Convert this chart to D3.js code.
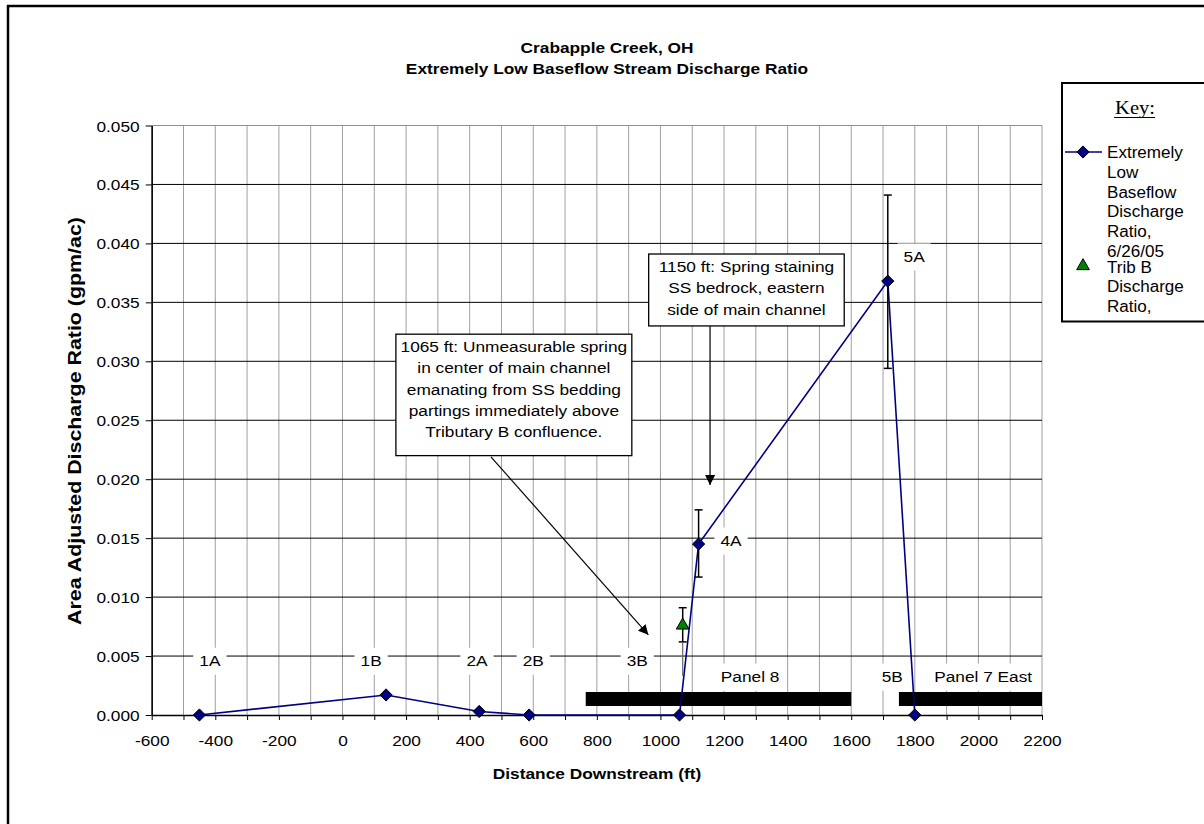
<!DOCTYPE html>
<html>
<head>
<meta charset="utf-8">
<script src="https://cdn.jsdelivr.net/npm/d3@7"></script>
<style>
  html, body { margin: 0; padding: 0; background: #fff; }
  svg { display: block; }
  text { font-family: "Liberation Sans", Arial, sans-serif; fill: #000; }
</style>
</head>
<body>
<svg id="chart" width="1204" height="824"></svg>
<script>
// ---- data -------------------------------------------------------------
const siteNames    = ["1A", "1B", "2A", "2B", "3B", "4A", "5A", "5B"];
const siteDistance = [-450, 137, 430, 587, 1060, 1120, 1715, 1800];
const siteRatio    = [0, 0.0017, 0.0003, 0, 0, 0.0145, 0.0368, 0];

// error bars on the main series
const errSite = ["4A", "5A"];
const errLow  = [0.0117, 0.0294];
const errHigh = [0.0174, 0.0441];

// Tributary B measurement
const tribDistance = [1070];
const tribRatio    = [0.0076];
const tribLow      = [0.0062];
const tribHigh     = [0.0091];
const tribStemLow  = [0.0033];

// survey panel extents along the stream
const panelNames = ["Panel 8", "Panel 7 East"];
const panelFrom  = [765, 1750];
const panelTo    = [1600, 2200];
const panelLevel = 0.00135;

// axis ticks
const xTicks = d3.range(-600, 2201, 200);
const xMinor = d3.range(-600, 2201, 100);
const yTicks = d3.range(0, 0.0501, 0.005);

// point labels (placed in data space)
const labelText = ["1A", "1B", "2A", "2B", "3B", "4A", "5A", "5B", "Panel 8", "Panel 7 East"];
const labelX    = [-417, 90, 423, 600, 927, 1222, 1798, 1729, 1282, 2015];
const labelY    = [0.0046, 0.0046, 0.0046, 0.0046, 0.0046, 0.0148, 0.0389, 0.00325, 0.00325, 0.00325];

// ---- setup ------------------------------------------------------------
const SX = 1.13;          // horizontal stretch of the lettering
const FS = 15.3;
const svg = d3.select("#chart");

const x = d3.scaleLinear().domain([-600, 2200]).range([151.7, 1042]);
const y = d3.scaleLinear().domain([0, 0.05]).range([715, 125.5]);

function txt(g, px, py, s, o = {}) {
  return g.append("text")
    .attr("transform", `translate(${px},${py}) scale(${o.sx || SX},1)`)
    .attr("text-anchor", o.anchor || "middle")
    .attr("font-size", o.size || FS)
    .attr("font-weight", o.weight || "normal")
    .style("font-family", o.family || null)
    .text(s);
}

// outer frame
svg.append("rect").attr("x", 8).attr("y", 6).attr("width", 1400).attr("height", 1000)
  .attr("fill", "none").attr("stroke", "#000").attr("stroke-width", 2.5);

// titles
txt(svg, 607, 53, "Crabapple Creek, OH", { weight: "bold" });
txt(svg, 607, 74, "Extremely Low Baseflow Stream Discharge Ratio", { weight: "bold" });

// ---- grid -------------------------------------------------------------
const plot = svg.append("g");
plot.append("g").selectAll("line").data(xMinor).join("line")
  .attr("x1", d => x(d)).attr("x2", d => x(d))
  .attr("y1", y(0)).attr("y2", y(0.05))
  .attr("stroke", "#a0a0a0").attr("stroke-width", 1);
plot.append("g").selectAll("line").data(yTicks.filter(d => d > 0 && d < 0.0499)).join("line")
  .attr("x1", x(-600)).attr("x2", x(2200))
  .attr("y1", d => y(d)).attr("y2", d => y(d))
  .attr("stroke", "#000").attr("stroke-width", 1);
plot.append("line").attr("x1", x(-600)).attr("x2", x(2200))
  .attr("y1", y(0.05)).attr("y2", y(0.05)).attr("stroke", "#909090");

// ---- axes -------------------------------------------------------------
const yAxis = svg.append("g").attr("transform", `translate(${x(-600)},0)`)
  .call(d3.axisLeft(y).tickValues(yTicks).tickFormat(d3.format(".3f")).tickSize(6).tickSizeOuter(0));
yAxis.select(".domain").attr("stroke", "#000").attr("stroke-width", 1.5);
yAxis.selectAll(".tick line").attr("stroke", "#000");
yAxis.selectAll(".tick text")
  .attr("x", null).attr("dy", null)
  .attr("transform", `translate(-12,5.5) scale(${SX},1)`)
  .attr("font-size", FS).attr("font-family", "Liberation Sans, Arial, sans-serif");

const xAxis = svg.append("g").attr("transform", `translate(0,${y(0)})`)
  .call(d3.axisBottom(x).tickValues(xMinor).tickFormat(d => xTicks.includes(d) ? d : "").tickSize(5).tickSizeOuter(0));
xAxis.select(".domain").attr("stroke", "#000").attr("stroke-width", 1.5);
xAxis.selectAll(".tick line").attr("stroke", "#000");
xAxis.selectAll(".tick text")
  .attr("y", null).attr("dy", null)
  .attr("transform", `translate(0,31) scale(${SX},1)`)
  .attr("font-size", FS).attr("font-family", "Liberation Sans, Arial, sans-serif");

txt(svg, 597, 779, "Distance Downstream (ft)", { weight: "bold" });
svg.append("text")
  .attr("transform", `translate(81,421) rotate(-90) scale(1,0.86)`)
  .attr("text-anchor", "middle").attr("font-size", 21.4).attr("font-weight", "bold")
  .text("Area Adjusted Discharge Ratio (gpm/ac)");

// ---- panel bars -------------------------------------------------------
svg.append("g").selectAll("line").data(panelNames).join("line")
  .attr("x1", (d, i) => x(panelFrom[i])).attr("x2", (d, i) => x(panelTo[i]))
  .attr("y1", y(panelLevel)).attr("y2", y(panelLevel))
  .attr("stroke", "#000").attr("stroke-width", 14);

// ---- main series ------------------------------------------------------
const pts = siteNames.map((n, i) => ({ n, d: siteDistance[i], r: siteRatio[i] }));
svg.append("path").datum(pts)
  .attr("fill", "none").attr("stroke", "#000080").attr("stroke-width", 1.6)
  .attr("d", d3.line().x(p => x(p.d)).y(p => y(p.r)));

function errBar(g, px, lo, hi, cap = true) {
  g.append("line").attr("x1", x(px)).attr("x2", x(px)).attr("y1", y(lo)).attr("y2", y(hi))
    .attr("stroke", "#000").attr("stroke-width", 1.5);
  if (cap) {
    [lo, hi].forEach(v => g.append("line")
      .attr("x1", x(px) - 4).attr("x2", x(px) + 4).attr("y1", y(v)).attr("y2", y(v))
      .attr("stroke", "#000").attr("stroke-width", 1.5));
  }
}
const eb = svg.append("g");
errSite.forEach((s, i) => errBar(eb, siteDistance[siteNames.indexOf(s)], errLow[i], errHigh[i]));
tribDistance.forEach((d, i) => {
  errBar(eb, d, tribLow[i], tribHigh[i]);
  eb.append("line").attr("x1", x(d)).attr("x2", x(d)).attr("y1", y(tribStemLow[i])).attr("y2", y(tribLow[i]))
    .attr("stroke", "#666").attr("stroke-width", 1.2);
});

const diamond = d3.symbol().type(d3.symbolDiamond2).size(95);
svg.append("g").selectAll("path").data(pts).join("path")
  .attr("transform", p => `translate(${x(p.d)},${y(p.r)})`)
  .attr("d", diamond).attr("fill", "#000080").attr("stroke", "#000").attr("stroke-width", 1);

const tri = d3.symbol().type(d3.symbolTriangle).size(70);
svg.append("g").selectAll("path").data(tribDistance).join("path")
  .attr("transform", (d, i) => `translate(${x(d)},${y(tribRatio[i])})`)
  .attr("d", tri).attr("fill", "#008000").attr("stroke", "#000").attr("stroke-width", 1);

// ---- point labels with white backing ---------------------------------
const lab = svg.append("g");
labelText.forEach((s, i) => {
  const cx = x(labelX[i]), cy = y(labelY[i]);
  const t = txt(lab, cx, cy + 5.5, s);
  const w = t.node().getBBox().width * SX + 12;
  lab.insert("rect", "text").attr("x", cx - w / 2).attr("y", cy - 13).attr("width", w).attr("height", 27)
    .attr("fill", "#fff");
});

// ---- callouts ---------------------------------------------------------
const defs = svg.append("defs");
defs.append("marker").attr("id", "ah").attr("viewBox", "0 0 10 10").attr("refX", 10).attr("refY", 5)
  .attr("markerWidth", 10).attr("markerHeight", 10).attr("markerUnits", "userSpaceOnUse")
  .attr("orient", "auto")
  .append("path").attr("d", "M0,0 L10,5 L0,10 Z").attr("fill", "#000");

const callouts = [
  { lines: ["1065 ft: Unmeasurable spring", "in center of main channel", "emanating from SS bedding",
            "partings immediately above", "Tributary B confluence."],
    x0: 168, x1: 910, yTop: 0.0323, yBot: 0.0220, from: [467, 0.0219], to: [962, 0.0068] },
  { lines: ["1150 ft: Spring staining", "SS bedrock, eastern", "side of main channel"],
    x0: 963, x1: 1578, yTop: 0.0391, yBot: 0.0330, from: [1156, 0.0330], to: [1156, 0.0195] }
];
const co = svg.append("g");
callouts.forEach(c => {
  co.append("line").attr("x1", x(c.from[0])).attr("y1", y(c.from[1]))
    .attr("x2", x(c.to[0])).attr("y2", y(c.to[1]))
    .attr("stroke", "#000").attr("stroke-width", 1.2).attr("marker-end", "url(#ah)");
  co.append("rect").attr("x", x(c.x0)).attr("y", y(c.yTop))
    .attr("width", x(c.x1) - x(c.x0)).attr("height", y(c.yBot) - y(c.yTop))
    .attr("fill", "#fff").attr("stroke", "#000").attr("stroke-width", 1.3);
  const cx = (x(c.x0) + x(c.x1)) / 2;
  c.lines.forEach((l, j) => txt(co, cx, y(c.yTop) + 18 + j * 21.3, l));
});

// ---- key ------------------------------------------------------------
const key = svg.append("g");
key.append("rect").attr("x", 1062).attr("y", 83).attr("width", 300).attr("height", 238.5)
  .attr("fill", "#fff").attr("stroke", "#000").attr("stroke-width", 2);
txt(key, 1135, 114, "Key:", { size: 19, family: "Liberation Serif, Times New Roman, serif", sx: 1.08 });
key.append("line").attr("x1", 1114).attr("x2", 1155).attr("y1", 117.5).attr("y2", 117.5)
  .attr("stroke", "#000").attr("stroke-width", 1);

key.append("line").attr("x1", 1065).attr("x2", 1102).attr("y1", 152).attr("y2", 152)
  .attr("stroke", "#000080").attr("stroke-width", 1.6);
key.append("path").attr("transform", "translate(1083,152)").attr("d", diamond)
  .attr("fill", "#000080").attr("stroke", "#000");
["Extremely", "Low", "Baseflow", "Discharge", "Ratio,", "6/26/05"].forEach((s, j) =>
  txt(key, 1107, 158 + j * 19.8, s, { anchor: "start", size: 15.8, sx: 1.08 }));
key.append("path").attr("transform", "translate(1083,266)").attr("d", tri)
  .attr("fill", "#008000").attr("stroke", "#000");
["Trib B", "Discharge", "Ratio,"].forEach((s, j) =>
  txt(key, 1107, 272.5 + j * 19.8, s, { anchor: "start", size: 15.8, sx: 1.08 }));
</script>
</body>
</html>
